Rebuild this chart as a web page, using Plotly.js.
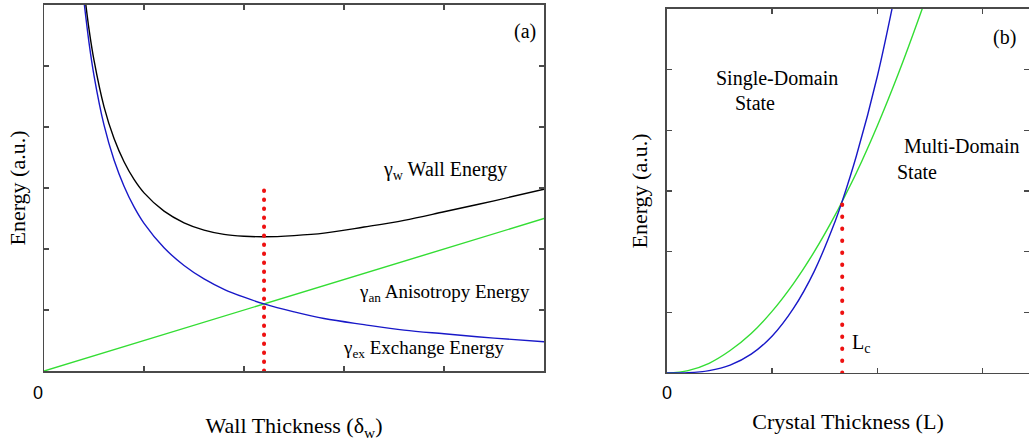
<!DOCTYPE html>
<html>
<head>
<meta charset="utf-8">
<script src="https://cdn.plot.ly/plotly-3.0.1.min.js"></script>
<style>
html,body{margin:0;padding:0;background:#fff;}
#chart{width:1029px;height:441px;}
.js-line{stroke-linecap:round;}
</style>
</head>
<body>
<div id="chart"></div>
<script>
// Panel (a): energies vs wall thickness
const wallThickness = [0.40, 0.45, 0.5, 0.6, 0.7, 0.8, 0.9, 1.0, 1.2, 1.4, 1.6, 1.8, 2.0, 2.2, 2.5, 2.8, 3.2, 3.6, 4.0, 4.5, 5.0];
const exchangeEnergy = [6.05, 5.38, 4.84, 4.03, 3.46, 3.03, 2.69, 2.42, 2.02, 1.73, 1.51, 1.34, 1.21, 1.10, 0.97, 0.86, 0.76, 0.67, 0.61, 0.54, 0.48];
const wallEnergy = [6.25, 5.60, 5.09, 4.33, 3.81, 3.43, 3.14, 2.92, 2.62, 2.43, 2.31, 2.24, 2.21, 2.20, 2.22, 2.26, 2.36, 2.47, 2.61, 2.79, 2.98];
const anisoX = [0, 5];
const anisotropyEnergy = [0, 2.5];
const optimumX = [2.2, 2.2];
const optimumY = [0, 3.0];

// Panel (b): energies vs crystal thickness
const crystalThickness = [0, 0.2, 0.4, 0.6, 0.8, 1.0, 1.2, 1.4, 1.6, 1.665, 1.8, 2.0, 2.2, 2.4, 2.5];
const multiDomainEnergy = [0, 0.04, 0.16, 0.37, 0.65, 1.02, 1.47, 2.00, 2.61, 2.83, 3.30, 4.08, 4.94, 5.88, 6.38];
const singleDomainX = [0, 0.2, 0.4, 0.6, 0.8, 1.0, 1.2, 1.4, 1.6, 1.665, 1.8, 2.0, 2.2];
const singleDomainEnergy = [0, 0.005, 0.04, 0.13, 0.31, 0.61, 1.06, 1.68, 2.51, 2.83, 3.58, 4.90, 6.53];
const criticalX = [1.665, 1.665];
const criticalY = [0, 2.81];

const originLabel = "0";

const serif = "Liberation Serif";
const sans = "Liberation Sans";
const axisColor = "#4a4a4a";
const blue = "#1818c8";
const green = "#33dd33";
const red = "#ee1111";

const traces = [
  {x: anisoX, y: anisotropyEnergy, mode: "lines", line: {color: green, width: 1.4}, xaxis: "x", yaxis: "y", hoverinfo: "skip"},
  {x: wallThickness, y: exchangeEnergy, mode: "lines", line: {color: blue, width: 1.4, shape: "spline"}, xaxis: "x", yaxis: "y", hoverinfo: "skip"},
  {x: wallThickness, y: wallEnergy, mode: "lines", line: {color: "#000000", width: 1.4, shape: "spline"}, xaxis: "x", yaxis: "y", hoverinfo: "skip"},
  {x: optimumX, y: optimumY, mode: "lines", line: {color: red, width: 4, dash: "0.5px,8.5px"}, xaxis: "x", yaxis: "y", hoverinfo: "skip"},
  {x: crystalThickness, y: multiDomainEnergy, mode: "lines", line: {color: green, width: 1.4, shape: "spline"}, xaxis: "x2", yaxis: "y2", hoverinfo: "skip"},
  {x: singleDomainX, y: singleDomainEnergy, mode: "lines", line: {color: blue, width: 1.4, shape: "spline"}, xaxis: "x2", yaxis: "y2", hoverinfo: "skip"},
  {x: criticalX, y: criticalY, mode: "lines", line: {color: red, width: 4, dash: "0.5px,11.5px"}, xaxis: "x2", yaxis: "y2", hoverinfo: "skip"}
];

function axisBase() {
  return {
    showgrid: false, zeroline: false, showline: true, linecolor: axisColor, linewidth: 1.5,
    mirror: "ticks", ticks: "inside", ticklen: 5, tickwidth: 1.5, tickcolor: axisColor,
    showticklabels: false, dtick: 1, tick0: 0, fixedrange: true
  };
}

const titleFont = {family: serif, size: 22, color: "#000"};
const textFont = {family: serif, size: 20, color: "#000"};
const smallTextFont = {family: serif, size: 19, color: "#000"};

const layout = {
  width: 1029, height: 441,
  margin: {l: 0, r: 0, t: 0, b: 0},
  paper_bgcolor: "#ffffff", plot_bgcolor: "#ffffff",
  showlegend: false,
  xaxis: Object.assign(axisBase(), {
    domain: [0.0428, 0.5287], range: [0, 5],
    title: {text: "Wall Thickness (δ<sub>w</sub>)", font: titleFont, standoff: 47},
    anchor: "y"
  }),
  yaxis: Object.assign(axisBase(), {
    domain: [0.1587, 0.9887], range: [0, 6],
    title: {text: "Energy (a.u.)", font: titleFont, standoff: 11},
    anchor: "x"
  }),
  xaxis2: Object.assign(axisBase(), {
    domain: [0.6482, 1.0], range: [0, 3.44],
    title: {text: "Crystal Thickness (L)", font: titleFont, standoff: 40},
    anchor: "y2"
  }),
  yaxis2: Object.assign(axisBase(), {
    domain: [0.1542, 0.9796], range: [0, 6],
    title: {text: "Energy (a.u.)", font: titleFont, standoff: 12},
    anchor: "x2"
  }),
  annotations: [
    {xref: "paper", yref: "paper", x: 0.0369, y: 0.1088, xanchor: "center", yanchor: "middle", text: originLabel, showarrow: false, font: {family: sans, size: 18, color: "#000"}},
    {xref: "paper", yref: "paper", x: 0.6482, y: 0.1088, xanchor: "center", yanchor: "middle", text: originLabel, showarrow: false, font: {family: sans, size: 18, color: "#000"}},
    {xref: "x", yref: "y", x: 4.81, y: 5.56, text: "(a)", showarrow: false, font: textFont},
    {xref: "x", yref: "y", x: 3.37, y: 3.28, xanchor: "left", text: "γ<sub>w</sub> Wall Energy", showarrow: false, font: textFont},
    {xref: "x", yref: "y", x: 3.13, y: 1.28, xanchor: "left", text: "γ<sub>an</sub> Anisotropy Energy", showarrow: false, font: smallTextFont},
    {xref: "x", yref: "y", x: 2.97, y: 0.36, xanchor: "left", text: "γ<sub>ex</sub> Exchange Energy", showarrow: false, font: smallTextFont},
    {xref: "x2", yref: "y2", x: 3.21, y: 5.53, text: "(b)", showarrow: false, font: textFont},
    {xref: "x2", yref: "y2", x: 1.05, y: 4.86, text: "Single-Domain", showarrow: false, font: textFont},
    {xref: "x2", yref: "y2", x: 0.84, y: 4.45, text: "State", showarrow: false, font: textFont},
    {xref: "x2", yref: "y2", x: 2.80, y: 3.74, text: "Multi-Domain", showarrow: false, font: textFont},
    {xref: "x2", yref: "y2", x: 2.38, y: 3.31, text: "State", showarrow: false, font: textFont},
    {xref: "x2", yref: "y2", x: 1.74, y: 0.48, xanchor: "left", text: "L<sub>c</sub>", showarrow: false, font: textFont}
  ]
};

Plotly.newPlot("chart", traces, layout, {staticPlot: true, displayModeBar: false});
</script>
</body>
</html>
